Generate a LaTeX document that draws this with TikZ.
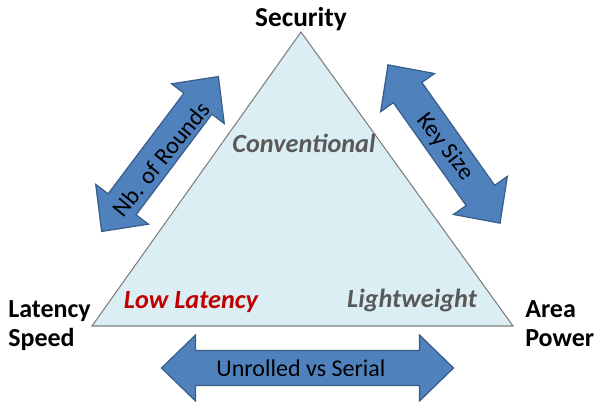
\documentclass[tikz,border=0pt]{standalone}
\usepackage{fontspec}
\setmainfont{Carlito}
\definecolor{arrfill}{HTML}{4F81BD}
\definecolor{arrline}{HTML}{385D8A}
\definecolor{trifill}{HTML}{DBEEF4}
\definecolor{triline}{HTML}{7F7F7F}
\definecolor{graytxt}{HTML}{595959}
\definecolor{redtxt}{HTML}{C00000}
\newcommand{\dblarrow}[4]{%
  \draw[arrowshape, shift={(#1,#2)}, rotate=#3]
    (-#4,0) -- (-#4+34,-33) -- (-#4+34,-17.5) -- (#4-34,-17.5) -- (#4-34,-33)
    -- (#4,0) -- (#4-34,33) -- (#4-34,17.5) -- (-#4+34,17.5) -- (-#4+34,33) -- cycle;}
\tikzset{
  arrowshape/.style={fill=arrfill, draw=arrline, line width=0.9pt, line join=miter},
  corner/.style={font=\fontsize{19.5}{22}\selectfont\bfseries, align=left, anchor=base west, inner sep=0pt},
  inner/.style={font=\fontsize{19.7}{22}\selectfont\bfseries\itshape, anchor=base, inner sep=0pt},
  arrtext/.style={font=\fontsize{18}{20}\selectfont, anchor=center, inner sep=0pt}
}
\begin{document}
\begin{tikzpicture}[x=0.75pt,y=-0.75pt]
\useasboundingbox (0,0) rectangle (598,402);
% triangle
\coordinate (bl) at (92,326);
\coordinate (top) at (301,32);
\coordinate (br) at (513,326);
\draw[fill=trifill, draw=triline, line width=0.8pt] (bl) -- (top) -- (br) -- cycle;
% arrows
\dblarrow{160}{154}{53}{97}
\dblarrow{444}{144}{-54.7}{97}
\dblarrow{307.5}{368}{0}{146}
% labels
\node[font=\fontsize{20.5}{22}\selectfont\bfseries, anchor=base, inner sep=0pt] (sec) at (301,27) {Security};
\node[corner] (lat) at (8,317) {Latency};
\node[corner] (spd) at (8,346) {Speed};
\node[corner] (area) at (525,317) {Area};
\node[corner] (pow) at (525,346) {Power};
\node[inner, text=graytxt] (conv) at (304,153) {Conventional};
\node[inner, text=redtxt] (low) at (191,308) {Low Latency};
\node[inner, text=graytxt] (light) at (412,307) {Lightweight};
\node[arrtext] (unr) at (301,368) {Unrolled vs Serial};
\node[arrtext, rotate=51] (nb) at (161,159) {Nb. of Rounds};
\node[arrtext, rotate=-52] (key) at (445,147) {Key Size};
\end{tikzpicture}
\end{document}
